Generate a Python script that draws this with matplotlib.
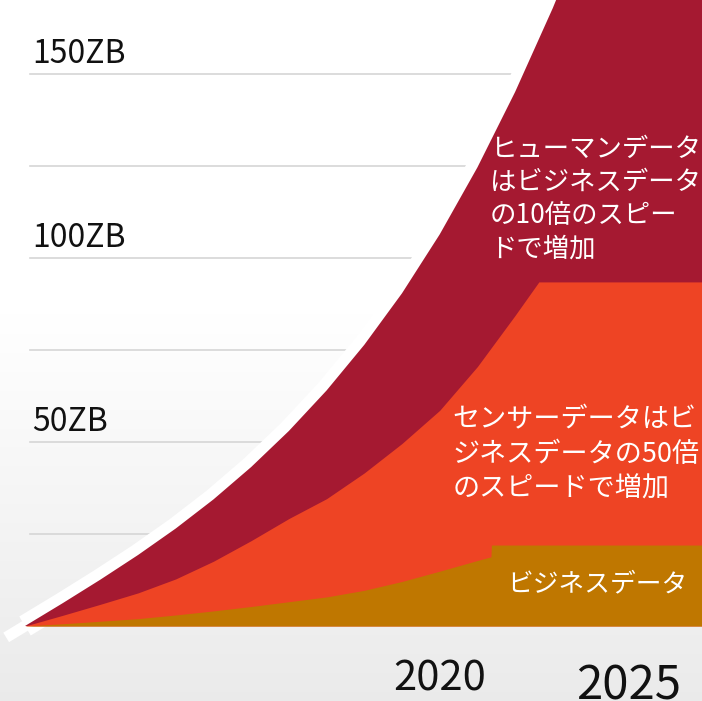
import matplotlib

matplotlib.use("Agg")
import matplotlib.pyplot as plt
import numpy as np

plt.rcParams["font.family"] = ["Noto Sans CJK JP", "DejaVu Sans"]

# cumulative data volume (ZB), stacked: business < sensor < human
years = [2009, 2010, 2011, 2012, 2013, 2014, 2015, 2016, 2017, 2018, 2019,
         2020, 2021, 2022, 2023, 2024, 2025, 2026, 2027]
total = [0, 6.2, 12.6, 19.3, 26.5, 34.4, 43.2, 53.0, 64.0, 76.4, 90.4,
         106.4, 124.6, 145.1, 167.9, 192.9, 219.9, 248.9, 279.9]

sensor_years = [2009, 2010, 2011, 2012, 2013, 2014, 2015, 2016, 2017, 2018,
                2019, 2020, 2021, 2022, 2022.63, 2027]
sensor_top = [0, 2.9, 5.9, 9.0, 12.8, 17.6, 23.2, 29.2, 34.6, 41.6, 49.6,
              58.6, 70.5, 84.4, 93.5, 93.5]

business_years = [2009, 2010, 2011, 2012, 2013, 2014, 2015, 2016, 2017,
                  2018, 2019, 2020, 2021, 2021.36, 2021.37, 2027]
business_top = [0, 0.6, 1.3, 2.0, 3.0, 4.1, 5.3, 6.6, 7.9, 9.7, 12.1, 14.9,
                17.8, 18.8, 22, 22]

grid_levels = [25, 50, 75, 100, 125, 150]
value_labels = {50: "50ZB", 100: "100ZB", 150: "150ZB"}
year_labels = {2020: ("2020", 30), 2025: ("2025", 34)}

human_text = "ヒューマンデータ\nはビジネスデータ\nの10倍のスピー\nドで増加"
sensor_text = "センサーデータはビ\nジネスデータの50倍\nのスピードで増加"
business_text = "ビジネスデータ"

CRIMSON = "#a51931"
ORANGE = "#ee4424"
BROWN = "#bf7700"

fig = plt.figure(figsize=(7.02, 7.01), dpi=100)
ax = fig.add_axes([0, 0, 1, 1])
ax.set_xlim(2008.337, 2026.958)
ax.set_ylim(-20.38, 170.1)
ax.axis("off")

# soft white-to-grey backdrop
grad = np.linspace(0, 1, 256)[:, None]
grad = np.clip((grad - 0.45) / 0.55, 0, 1)
shade = 1 - 0.08 * grad
ax.imshow(np.dstack([shade, shade, shade]), extent=[0, 1, 0, 1],
          transform=ax.transAxes, origin="upper", aspect="auto", zorder=0)

for lv in grid_levels:
    ax.plot([2009.13, 2027], [lv, lv], color="#d6d6d6", lw=1.2, zorder=1)
for lv, lab in value_labels.items():
    ax.text(2009.2, lv + 5.5, lab, fontsize=23, ha="left", va="center",
            color="#111111", zorder=2)

# white rim along the outer edge, running a little past the origin
x = np.array(years, dtype=float)
y = np.array(total, dtype=float)
slope = (y[1] - y[0]) / (x[1] - x[0])
ax.plot(x, y, color="white", lw=16, solid_capstyle="butt",
        solid_joinstyle="round", zorder=2)
ax.plot([x[0] - 0.5, x[0] + 0.3], [y[0] - 0.5 * slope, y[0] + 0.3 * slope],
        color="white", lw=8, solid_capstyle="butt", zorder=2)

ax.fill_between(years, 0, total, color=CRIMSON, lw=0, zorder=3)
ax.fill_between(sensor_years, 0, sensor_top, color=ORANGE, lw=0, zorder=4)
ax.fill_between(business_years, 0, business_top, color=BROWN, lw=0, zorder=5)

ax.text(2021.33, 133.2, human_text, fontsize=19, color="white", ha="left",
        va="top", linespacing=1.3, zorder=6)
ax.text(2020.33, 59.6, sensor_text, fontsize=19.5, color="white", ha="left",
        va="top", linespacing=1.36, zorder=6)
ax.text(2021.79, 11.4, business_text, fontsize=18.5, color="white", ha="left",
        va="center", zorder=6)

for yr, (lab, size) in year_labels.items():
    ax.text(yr, -14.5 if size < 32 else -16.5, lab, fontsize=size,
            ha="center", va="center", color="#111111", zorder=6)

fig.savefig("out.png", dpi=100)
